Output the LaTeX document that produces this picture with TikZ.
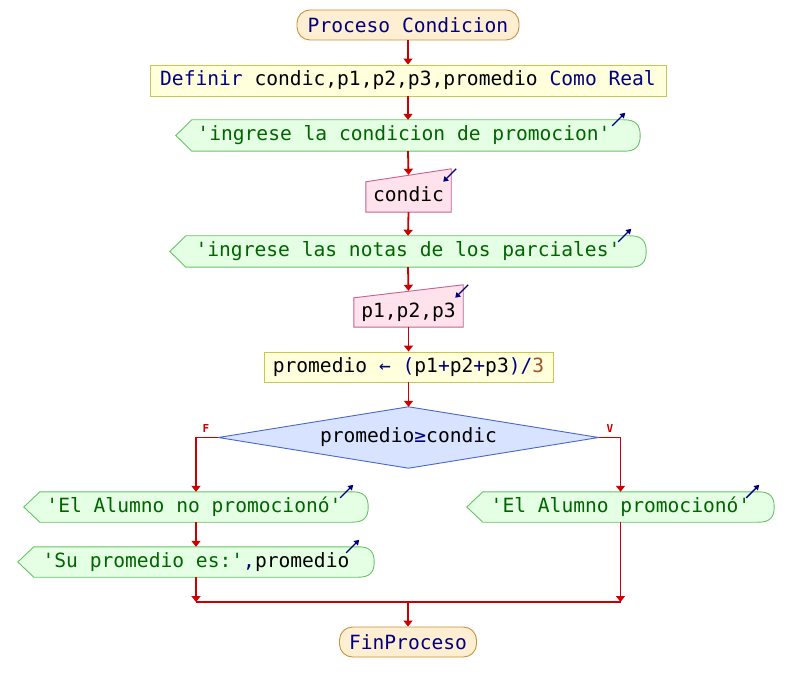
\documentclass[tikz,border=0pt]{standalone}
\usepackage{fontspec}
\setmonofont{DejaVu Sans Mono}
\usetikzlibrary{calc,arrows.meta,backgrounds}
\definecolor{kwc}{HTML}{000080}
\definecolor{strc}{HTML}{006400}
\definecolor{numc}{HTML}{A0522D}
\definecolor{connc}{HTML}{CC0000}
\definecolor{termf}{HTML}{FFEFD2}
\definecolor{termd}{HTML}{C8903C}
\definecolor{procf}{HTML}{FFFFDC}
\definecolor{procd}{HTML}{C8C850}
\definecolor{outf}{HTML}{E4FFE4}
\definecolor{outd}{HTML}{66C466}
\definecolor{inf}{HTML}{FFE2EC}
\definecolor{ind}{HTML}{C86090}
\definecolor{decf}{HTML}{D8E4FF}
\definecolor{decd}{HTML}{4A66C8}
\newcommand\kw[1]{\textcolor{kwc}{#1}}
\newcommand\str[1]{\textcolor{strc}{#1}}
\newcommand\nm[1]{\textcolor{numc}{#1}}
\tikzset{
  txt/.style={font=\ttfamily\fontsize{19.6}{22}\selectfont, inner sep=0pt, anchor=center},
  term/.style={txt, draw=termd, fill=termf, rounded corners=13pt, line width=0.9pt},
  proc/.style={txt, draw=procd, fill=procf, line width=0.9pt},
  plain/.style={txt},
  outbox/.style={draw=outd, fill=outf, line width=0.9pt},
  inbox/.style={draw=ind, fill=inf, line width=0.9pt},
  decbox/.style={draw=decd, fill=decf, line width=0.9pt},
  conn/.style={draw=connc, line width=1.8pt, -{Triangle[length=6pt,width=9pt]}},
  connl/.style={draw=connc, line width=1.8pt},
  icon/.style={draw=kwc, line width=1.4pt, -{Triangle[length=5pt,width=6pt]}},
  flag/.style={text=connc, font=\ttfamily\bfseries\fontsize{11}{12}\selectfont, inner sep=0pt}
}
\newcommand\outsh[1]{\path[outbox] (#1.west) -- ($(#1.north west)+(16,0)$) -- ($(#1.north east)+(-16,0)$) .. controls ($(#1.north east)+(-5,0)$) and ($(#1.east)+(0,-11)$) .. (#1.east) .. controls ($(#1.east)+(0,11)$) and ($(#1.south east)+(-5,0)$) .. ($(#1.south east)+(-16,0)$) -- ($(#1.south west)+(16,0)$) -- cycle;}
\newcommand\insh[1]{\path[inbox] (#1.south west) -- ($(#1.north west)+(0,13)$) -- (#1.north east) -- (#1.south east) -- cycle;}
\newcommand\outicon[1]{\draw[icon] ($(#1.north east)+(-28,6)$) -- ($(#1.north east)+(-15,-7)$);}
\newcommand\inicon[1]{\draw[icon] ($(#1.north east)+(5,0)$) -- ($(#1.north east)+(-8,13)$);}
\begin{document}
\begin{tikzpicture}[x=1pt,y=-1pt]
\useasboundingbox (0,0) rectangle (792,692);
% nodes
\node[term, minimum width=222pt, minimum height=30pt] (start) at (408,25) {\kw{Proceso Condicion}};
\node[proc, minimum width=516pt, minimum height=31pt] (def) at (408,80.5) {\kw{Definir} condic,p1,p2,p3,promedio \kw{Como Real}};
\node[plain, minimum width=464pt, minimum height=31pt] (o1) at (408,135.5) {\str{'ingrese la condicion de promocion'}\hspace*{8pt}};
\node[plain, minimum width=85pt, minimum height=43pt] (i1) at (408.5,190.5) {\raisebox{-11pt}[0pt][0pt]{condic}};
\node[plain, minimum width=476pt, minimum height=31pt] (o2) at (408,251.5) {\str{'ingrese las notas de los parciales'}};
\node[plain, minimum width=109pt, minimum height=42pt] (i2) at (408.5,306) {\raisebox{-12pt}[0pt][0pt]{p1,p2,p3}};
\node[proc, minimum width=289pt, minimum height=30pt] (asg) at (408.5,367) {promedio \kw{← (}p1\kw{+}p2\kw{+}p3\kw{)/}\nm{3}};
\node[plain, minimum width=380pt, minimum height=61pt] (d) at (408.5,437.5) {promedio\kw{≥}condic};
\node[plain, minimum width=344pt, minimum height=30pt] (o3) at (196,507) {\str{'El Alumno no promocionó'}\hspace*{4pt}};
\node[plain, minimum width=356pt, minimum height=30pt] (o4) at (196,562) {\str{'Su promedio es:'}\kw{,}promedio};
\node[plain, minimum width=307pt, minimum height=30pt] (o5) at (620.5,507) {\str{'El Alumno promocionó'}};
\node[term, minimum width=137pt, minimum height=30pt] (fin) at (408,642) {\kw{FinProceso}};
\node[flag] (fF) at (206,428) {F};
\node[flag] (fV) at (610,428) {V};
% shapes behind text
\begin{pgfonlayer}{background}
\fill[white] (0,0) rectangle (792,692);
\outsh{o1}\outsh{o2}\outsh{o3}\outsh{o4}\outsh{o5}
\insh{i1}\insh{i2}
\path[decbox] (d.west) -- (d.north) -- (d.east) -- (d.south) -- cycle;
\end{pgfonlayer}
% icons
\outicon{o1}\outicon{o2}\outicon{o3}\outicon{o4}\outicon{o5}
\inicon{i1}\inicon{i2}
% connectors
\coordinate (ml) at (196,602);
\coordinate (mr) at (620.5,602);
\coordinate (mc) at (408,602);
\draw[conn] (start.south) -- (def.north);
\draw[conn] (def.south) -- (o1.north);
\draw[conn] (o1.south) -- ($(i1.north)+(0,6)$);
\draw[conn] (i1.south) -- (o2.north);
\draw[conn] (o2.south) -- ($(i2.north)+(0,6)$);
\draw[conn] (i2.south) -- (asg.north);
\draw[conn] (asg.south) -- (d.north);
\draw[conn] (d.west) -| (o3.north);
\draw[conn] (d.east) -| (o5.north);
\draw[conn] (o3.south) -- (o4.north);
\draw[conn] (o4.south) -- (ml);
\draw[conn] (o5.south) -- (mr);
\draw[connl] (ml) -- (mr);
\draw[conn] (mc) -- (fin.north);
\end{tikzpicture}
\end{document}
